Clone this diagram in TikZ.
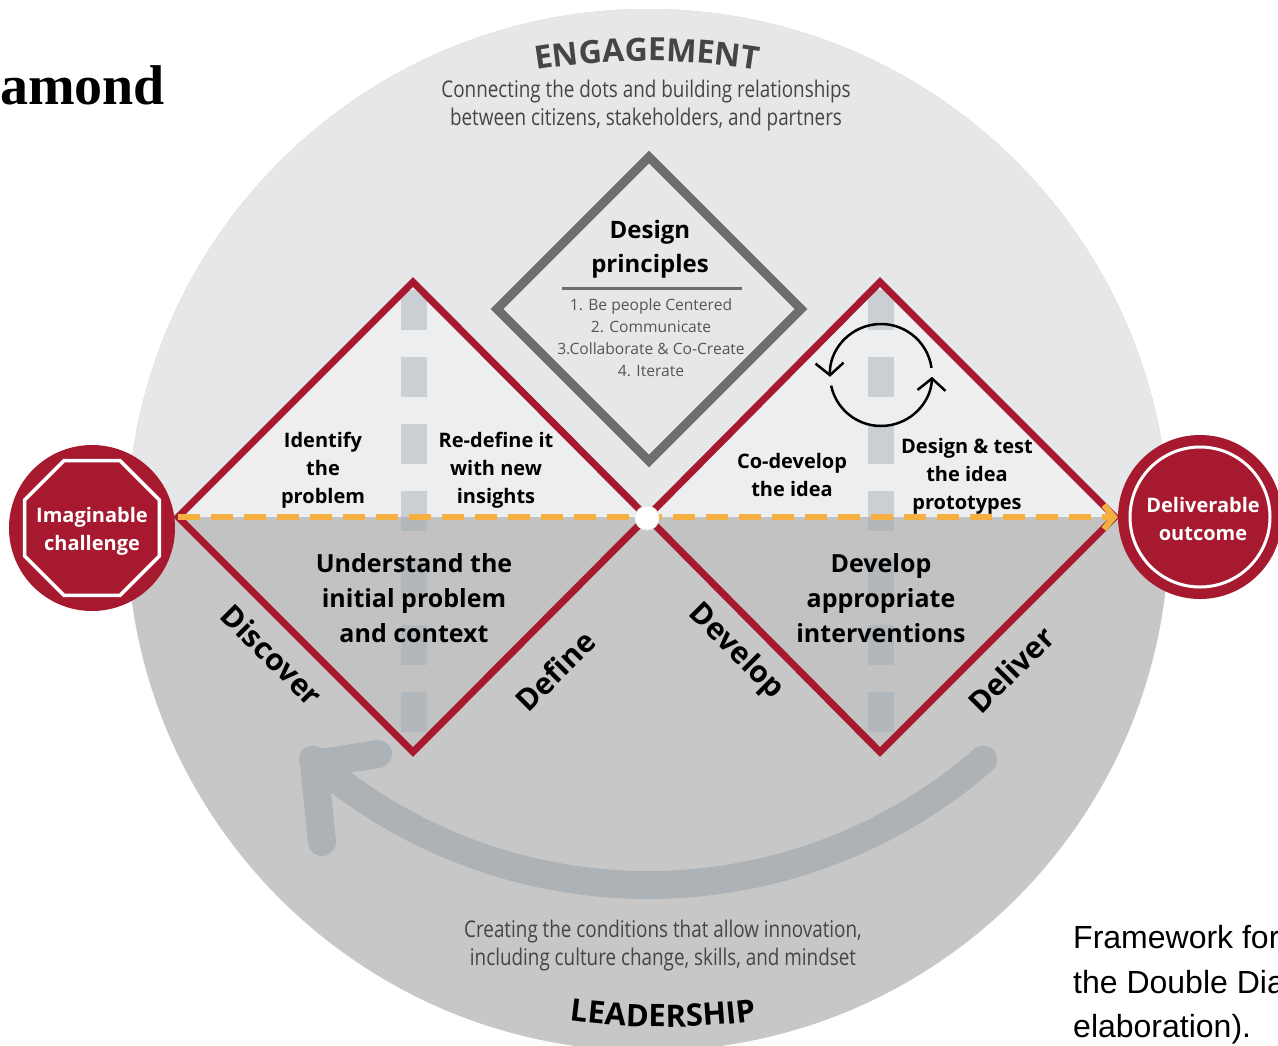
\documentclass[tikz,border=0pt]{standalone}
\usepackage{fontspec}
\setmainfont{Open Sans}
\newfontfamily\condfont{Open Sans}[FakeStretch=0.82]
\newfontfamily\titlefont{Liberation Serif}
\newfontfamily\capfont{Liberation Sans}
\usetikzlibrary{arrows.meta,decorations.text,shapes.geometric}
\definecolor{upgray}{HTML}{E6E7E9}
\definecolor{upin}{HTML}{EDEEF0}
\definecolor{lowgray}{HTML}{C7C7C7}
\definecolor{lowin}{HTML}{C2C2C2}
\definecolor{ddred}{HTML}{A6192E}
\definecolor{dgray}{HTML}{6E6E6E}
\definecolor{barcol}{HTML}{A0AAB4}
\definecolor{arrgray}{HTML}{ADB2B7}
\definecolor{orng}{HTML}{F5B041}
\definecolor{txtgray}{HTML}{454545}
\definecolor{listgray}{HTML}{555555}
\begin{document}
\begin{tikzpicture}[x=1pt,y=-1pt,
  lbl/.style={font=\bfseries\fontsize{20}{28}\selectfont, align=center, inner sep=0pt, text=black},
  bigl/.style={font=\bfseries\fontsize{25}{35}\selectfont, align=center, inner sep=0pt, text=black},
  phase/.style={font=\bfseries\fontsize{30}{30}\selectfont, inner sep=0pt, text=black},
  desc/.style={font=\condfont\fontsize{23}{28}\selectfont, align=center, inner sep=0pt, text=txtgray},
  wlbl/.style={font=\bfseries\fontsize{20}{28}\selectfont, align=center, inner sep=0pt, text=white},
  capt/.style={font=\capfont\fontsize{32}{32}\selectfont, anchor=base west, inner sep=0pt, text=black},
  reddiam/.style={draw=ddred, line width=7pt, line join=miter},
  barline/.style={draw=barcol, opacity=0.45, line width=26pt, dash pattern=on 40pt off 27pt},
  bigarrow/.style={draw=arrgray, line width=28pt, line cap=round, line join=round},
  cycarrow/.style={draw=black, line width=2.5pt, -{Straight Barb[length=12pt, width=28pt]}},
  flow/.style={draw=orng, line width=6pt, dash pattern=on 22pt off 11pt, -{Straight Barb[length=10pt, width=24pt]}}
]
\useasboundingbox (0,0) rectangle (1278,1045);
\fill[white] (0,0) rectangle (1278,1045);
\clip (0,0) rectangle (1278,1045);

% title fragment
\node[font=\titlefont\bfseries\fontsize{56}{56}\selectfont, anchor=base west, inner sep=0pt] (title) at (0,104) {amond};

% big circle
\fill[lowgray] (648,530) circle[radius=521];
\begin{scope}
  \clip (0,0) rectangle (1278,517);
  \fill[upgray] (648,530) circle[radius=521];
  \fill[upin] (178,517) -- (413,282) -- (647,517) -- (413,752) -- cycle;
  \fill[upin] (647,517) -- (880,282) -- (1115,517) -- (880,752) -- cycle;
\end{scope}
\begin{scope}
  \clip (0,517) rectangle (1278,1045);
  \fill[lowin] (178,517) -- (413,282) -- (647,517) -- (413,752) -- cycle;
  \fill[lowin] (647,517) -- (880,282) -- (1115,517) -- (880,752) -- cycle;
\end{scope}

% dashed bars
\begin{scope}
  \clip (178,517) -- (413,282) -- (647,517) -- (413,752) -- cycle;
  \draw[barline] (414,290) -- (414,760);
\end{scope}
\begin{scope}
  \clip (647,517) -- (880,282) -- (1115,517) -- (880,752) -- cycle;
  \draw[barline] (881,290) -- (881,760);
\end{scope}

% big return arrow
\draw[bigarrow] (648,374) ++(49:511) arc[start angle=49, end angle=131, radius=511];
\draw[bigarrow] (378,754) -- (314,764) -- (322,842);

% red diamonds
\draw[reddiam] (178,517) -- (413,282) -- (647,517) -- (413,752) -- cycle;
\draw[reddiam] (647,517) -- (880,282) -- (1115,517) -- (880,752) -- cycle;

% design principles diamond
\draw[draw=dgray, line width=9pt, line join=miter] (649,157) -- (801,309) -- (649,461) -- (497,309) -- cycle;
\node[font=\bfseries\fontsize{24}{34}\selectfont, align=center, inner sep=0pt] (dptitle) at (650,249) {Design\\principles};
\draw[draw=dgray, line width=3pt] (562,288) -- (742,288);
\node[font=\fontsize{15.6}{22}\selectfont, align=center, inner sep=0pt, text=listgray] (dplist) at (651,338)
  {1. Be people Centered\\2. Communicate\\3.Collaborate \& Co-Create\\4. Iterate};

% cycle icon
\coordinate (cyc) at (881,375);
\draw[cycarrow] (cyc) ++(352:51) arc[start angle=352, end angle=178, radius=51];
\draw[cycarrow] (cyc) ++(168:51) arc[start angle=168, end angle=2, radius=51];

% end circles
\node[circle, fill=ddred, minimum size=166pt, inner sep=0pt] (ic) at (92,528) {};
\node[regular polygon, regular polygon sides=8, draw=white, line width=3.5pt, minimum size=146pt, inner sep=0pt] (oct) at (ic) {};
\node[wlbl] (ictext) at (92,531) {Imaginable\\challenge};
\node[circle, fill=ddred, minimum size=164pt, inner sep=0pt] (oc) at (1200,517) {};
\node[circle, draw=white, line width=3pt, minimum size=140pt, inner sep=0pt] (ocring) at (oc) {};
\node[wlbl] (octext) at (1203,519) {Deliverable\\outcome};

% flow line
\coordinate (dl) at (178,517);
\draw[flow] (dl) -- (oc.west);
\node[circle, fill=white, draw=white!85!gray, line width=1pt, minimum size=24pt, inner sep=0pt] (mid) at (647,518) {};

% labels in diamonds
\node[lbl] (ident) at (323,470) {Identify\\the\\problem};
\node[lbl] (redef) at (496,470) {Re-define it\\with new\\insights};
\node[bigl] (underst) at (414,598) {Understand the\\initial problem\\and context};
\node[lbl] (codev) at (792,475) {Co-develop\\the idea};
\node[lbl] (dtest) at (967,476) {Design \& test\\the idea\\prototypes};
\node[bigl] (devapp) at (881,598) {Develop\\appropriate\\interventions};

\node[phase, rotate=-45] (discover) at (272,655) {Discover};
\node[phase, rotate=45] (define) at (555,671) {Define};
\node[phase, rotate=-45] (develop) at (736,652) {Develop};
\node[phase, rotate=45] (deliver) at (1011,670) {Deliver};

% engagement / leadership
\path[decorate, decoration={text along path, text align=center,
  text={|\color{txtgray}\bfseries\fontsize{32}{32}\selectfont|ENGAGEMENT}}]
  (647,761) ++(260:700) arc[start angle=260, end angle=280, radius=700];
\node[desc] (engdesc) at (646,106) {Connecting the dots and building relationships\\between citizens, stakeholders, and partners};
\node[desc] (leaddesc) at (663,946) {Creating the conditions that allow innovation,\\including culture change, skills, and mindset};
\path[decorate, decoration={text along path, text align=center,
  text={|\color{black}\bfseries\fontsize{31}{31}\selectfont|LEADERSHIP}}]
  (663,327) ++(99:700) arc[start angle=99, end angle=81, radius=700];

% caption fragment
\node[capt] (cap1) at (1073,948) {Framework for};
\node[capt] (cap2) at (1073,993) {the Double Dia};
\node[capt] (cap3) at (1073,1037) {elaboration).};
\end{tikzpicture}
\end{document}
